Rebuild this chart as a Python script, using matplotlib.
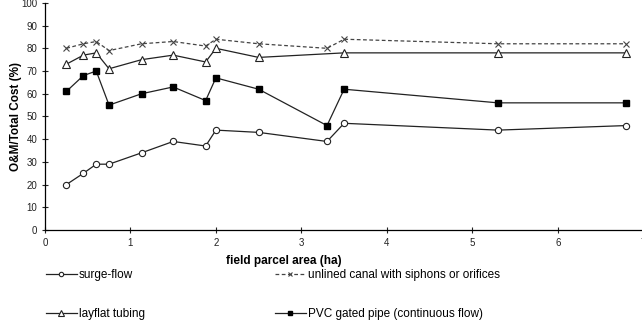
import matplotlib.pyplot as plt

plt.rcParams['font.family'] = ['Liberation Sans', 'DejaVu Sans']

# field parcel area (ha)
area = [0.25, 0.45, 0.6, 0.75, 1.13, 1.5, 1.88, 2.0, 2.5, 3.3, 3.5, 5.3, 6.8]
area_layflat = [0.25, 0.45, 0.6, 0.75, 1.13, 1.5, 1.88, 2.0, 2.5, 3.5, 5.3, 6.8]

surge_flow = [20, 25, 29, 29, 34, 39, 37, 44, 43, 39, 47, 44, 46]
unlined = [80, 82, 83, 79, 82, 83, 81, 84, 82, 80, 84, 82, 82]
layflat = [73, 77, 78, 71, 75, 77, 74, 80, 76, 78, 78, 78]
pvc = [61, 68, 70, 55, 60, 63, 57, 67, 62, 46, 62, 56, 56]

fig = plt.figure(figsize=(6.42, 3.2), dpi=100)
ax = fig.add_axes([0.070, 0.281, 0.932, 0.710])

lc = '#222222'
h1, = ax.plot(area, surge_flow, '-', color=lc, lw=0.9, marker='o', ms=4.5,
              mfc='white', mec=lc, mew=0.8, label='surge-flow')
h3, = ax.plot(area_layflat, layflat, '-', color=lc, lw=0.9, marker='^', ms=5.5,
              mfc='white', mec=lc, mew=0.8, label='layflat tubing')
h2, = ax.plot(area, unlined, color='#444444', lw=0.9, ls=(0, (3, 2)), marker='x',
              ms=4, mew=0.8, label='unlined canal with siphons or orifices')
h4, = ax.plot(area, pvc, '-', color=lc, lw=0.9, marker='s', ms=5,
              mfc='black', mec='black', label='PVC gated pipe (continuous flow)')

ax.set_xlim(0, 7)
ax.set_ylim(0, 100)
ax.set_xticks(range(0, 8))
ax.set_yticks(range(0, 101, 10))
ax.spines['top'].set_visible(False)
ax.spines['right'].set_visible(False)
ax.spines['left'].set_linewidth(0.9)
ax.spines['bottom'].set_linewidth(0.9)
ax.tick_params(direction='inout', length=5, width=0.8, labelsize=7, colors='#222222', pad=3)

ax.set_ylabel('O&M/Total Cost (%)', fontsize=8.5, fontweight='bold')
ax.yaxis.set_label_coords(-0.038, 0.5)
ax.set_xlabel('field parcel area (ha)', fontsize=8.5, fontweight='bold')
ax.xaxis.set_label_coords(0.40, -0.11)

fig.legend(handles=[h1, h3, h2, h4], loc='upper left', bbox_to_anchor=(0.055, 0.192),
           ncol=2, frameon=False, handlelength=2.6, handletextpad=0.2,
           columnspacing=11.0, labelspacing=2.3, markerscale=0.7,
           prop={'family': ['Liberation Sans Narrow', 'Liberation Sans'], 'size': 8.5})

fig.savefig('out.png', dpi=100)
